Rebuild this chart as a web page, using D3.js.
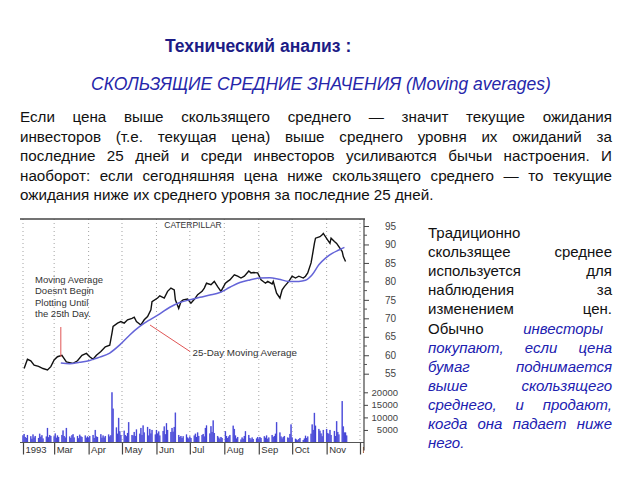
<!DOCTYPE html>
<html><head><meta charset="utf-8">
<script src="https://cdn.jsdelivr.net/npm/d3@7"></script>
<style>body{margin:0;background:#fff}svg{display:block}</style>
</head><body>
<svg id="c" width="640" height="480"></svg>
<script>
// ---------- DATA ----------
const monthLabels = ["1993","Mar","Apr","May","Jun","Jul","Aug","Sep","Oct","Nov","Dec"];
const priceTicks = [55,60,65,70,75,80,85,90,95];
const volumeTicks = [5000,10000,15000,20000];

const priceDates = ["02-02","02-05","02-08","02-11","02-15","02-19","02-23","02-26","03-01","03-04","03-08","03-10","03-12","03-18","03-22","03-26","03-30","04-02","04-05","04-08","04-12","04-16","04-20","04-22","04-23","04-27","04-30","05-03","05-06","05-10","05-12","05-14","05-18","05-21","05-24","05-27","05-28","06-02","06-04","06-08","06-11","06-14","06-17","06-18","06-21","06-23","06-25","06-29","07-02","07-06","07-08","07-12","07-14","07-16","07-20","07-23","07-26","07-29","08-02","08-04","08-06","08-10","08-13","08-16","08-19","08-23","08-25","08-27","08-31","09-03","09-07","09-09","09-13","09-14","09-17","09-20","09-22","09-24","09-28","10-01","10-04","10-07","10-11","10-13","10-15","10-18","10-19","10-21","10-22","10-26","10-28","10-29","11-02","11-04","11-05","11-08","11-10","11-12","11-15","11-16","11-18"];
const priceValues = [56.4,58.9,58.5,57.3,57.0,56.4,56.0,56.9,58.7,59.6,60.0,59.1,58.2,57.8,58.5,60.0,60.5,59.6,58.9,60.0,61.0,62.3,62.7,66.0,67.8,68.7,69.1,68.7,69.6,70.0,70.3,69.1,68.2,69.6,70.5,72.3,74.5,75.5,76.1,75.5,77.3,78.2,77.7,75.0,72.7,74.5,75.0,75.2,74.1,75.5,76.4,77.3,78.2,79.5,79.1,80.0,78.6,77.3,79.5,80.0,80.4,81.8,81.4,80.9,81.4,82.8,82.3,82.4,82.3,80.4,79.5,80.0,79.3,80.0,76.8,75.5,77.7,78.6,80.0,81.4,80.9,81.4,80.9,81.4,82.3,85.0,86.7,90.3,91.7,92.1,92.6,93.0,91.2,90.3,91.7,90.8,90.3,89.4,88.1,86.7,85.4];

const maDates = ["03-07","03-15","03-24","04-02","04-11","04-20","04-29","05-08","05-17","05-26","06-04","06-13","06-22","07-01","07-10","07-19","07-28","08-06","08-15","08-24","09-02","09-11","09-19","09-28","10-07","10-13","10-19","10-25","10-31","11-06","11-12","11-17"];
const maValues = [57.9,57.7,58.1,58.6,59.5,60.6,62.8,65.5,67.8,69.6,71.2,73.0,74.3,75.0,75.7,76.3,77.0,78.4,79.7,80.4,80.9,81.0,80.6,80.0,80.0,80.3,81.8,84.5,86.3,87.6,88.5,89.2];

// daily volume, one value per trading day, Feb 1 – Nov 19, 1993
const volFeb = [2800,3400,2200,1800,3000,2500,1500,3200,2000,2600,1800,3500,2300,2900,1600,2400,5800,2100,3000,2600];
const volMar = [2500,3600,1900,2800,2200,3000,4800,2600,2000,5800,2400,1800,2900,3300,2000,2600,1700,3100,2500,2200,2800,1900,2400];
const volApr = [2000,2600,3000,1800,5000,2400,2200,3300,1900,2800,2000,2600,3200,2400,2900,20000,13500,6000,3500,9800,4500,3000];
const volMay = [4700,3000,2500,3800,8100,3000,2800,4200,2600,5200,3500,5800,3000,6800,4000,6200,2800,5400,3600,5000,3200];
const volJun = [5000,3600,4400,2800,4600,6400,3300,7700,5000,4200,5800,4300,6200,11900,3000,2200,2600,1800,2500,3200,2000,1600];
const volJul = [2400,1800,2800,3500,2200,4000,2600,3000,3400,2400,5800,6800,3600,6500,4200,8800,3800,2600,2000,1500,2200,1800];
const volAug = [4500,2600,1800,2400,3000,6700,5400,2800,1600,2200,1200,2000,1500,2600,4500,3000,1800,1200,2000,1400,1600,2200];
const volSep = [1500,2200,1800,2500,1900,2800,1500,2000,3000,2200,2600,3500,8100,4000,2400,1600,2200,2600,2000,1800,3400,7200];
const volOct = [2000,1500,1200,900,1400,1800,1000,1600,2700,1800,2400,3500,7200,5000,11800,6700,5400,4700,3600,2500,5000];
const volNov = [5400,3800,3400,5000,3000,4600,2600,8500,4200,3200,16500,6400,4000,4000,2800];

// ---------- TEXT ----------
const titleText = "Технический анализ :";
const subtitleText = "СКОЛЬЗЯЩИЕ СРЕДНИЕ ЗНАЧЕНИЯ (Moving averages)";
const paraLines = [
  "Если цена выше скользящего среднего — значит текущие ожидания",
  "инвесторов (т.е. текущая цена) выше среднего уровня их ожиданий за",
  "последние 25 дней и среди инвесторов усиливаются бычьи настроения. И",
  "наоборот: если сегодняшняя цена ниже скользящего среднего — то текущие",
  "ожидания ниже их среднего уровня за последние 25 дней."
];
const sideLines = [
  [["n","Традиционно"]],
  [["n","скользящее среднее"]],
  [["n","используется для"]],
  [["n","наблюдения за"]],
  [["n","изменением цен."]],
  [["n","Обычно"],["b","инвесторы"]],
  [["b","покупают, если цена"]],
  [["b","бумаг поднимается"]],
  [["b","выше скользящего"]],
  [["b","среднего, и продают,"]],
  [["b","когда она падает ниже"]],
  [["b","него."]]
];

// ---------- DRAW ----------
const FONT = "'Liberation Sans', Arial, Helvetica, sans-serif";
const svg = d3.select("#c").attr("font-family", FONT);
const parse = s => d3.timeParse("%Y-%m-%d")("1993-" + s);

svg.append("text").attr("x",165).attr("y",52).attr("font-size",17.5).attr("font-weight","bold")
  .attr("fill","#1c1c86").text(titleText);
svg.append("text").attr("x",91).attr("y",89.5).attr("font-size",17.5).attr("font-style","italic")
  .attr("fill","#2626aa").text(subtitleText);

function placeLine(segs, x0, x1, y, justify, fs) {
  const words = [];
  segs.forEach(([k, t]) => t.split(" ").forEach(w => words.push([k, w])));
  const nodes = words.map(([k, w]) => {
    const t = svg.append("text").attr("y", y).attr("font-size", fs).text(w);
    if (k === "b") t.attr("fill","#2020b0").attr("font-style","italic"); else t.attr("fill","#111");
    return t;
  });
  const widths = nodes.map(n => n.node().getComputedTextLength());
  const total = d3.sum(widths);
  const gap = (justify && nodes.length > 1) ? (x1 - x0 - total) / (nodes.length - 1) : fs * 0.278;
  let x = x0;
  nodes.forEach((n, i) => { n.attr("x", x); x += widths[i] + gap; });
}
paraLines.forEach((l, i) => placeLine([["n", l]], 20, 612, 122 + i * 19.5, i < paraLines.length - 1, 15.2));
sideLines.forEach((l, i) => {
  const last = i === sideLines.length - 1;
  const x1 = i === 5 ? 603 : 612;
  placeLine(l, 428, x1, 238 + i * 19.1, !last && i !== 0, 15);
});

// chart
const g = svg.append("g");
const x = d3.scaleTime().domain([new Date(1993,1,1), new Date(1993,11,1)]).range([23,360]);
const yP = d3.scaleLinear().domain([55,95]).range([373.7,226]);
const yV = d3.scaleLinear().domain([0,20000]).range([442.5,392.3]);
const AX = 364, TOP = 219, BOT = 442.5;

const months = d3.timeMonth.range(new Date(1993,1,1), new Date(1993,11,2));
g.selectAll(".grid").data(months).join("line")
  .attr("x1", d => x(d)).attr("x2", d => x(d)).attr("y1", TOP).attr("y2", BOT)
  .attr("stroke","#8a8a8a").attr("stroke-width",0.8).attr("stroke-dasharray","1,3");

// volume
const tradingDays = d3.timeDay.range(new Date(1993,1,1), new Date(1993,10,20)).filter(d => d.getDay() % 6 !== 0);
const volumes = [].concat(volFeb, volMar, volApr, volMay, volJun, volJul, volAug, volSep, volOct, volNov);
const vData = tradingDays.map((d, i) => ({d, v: volumes[i]}));
g.selectAll(".vb").data(vData).join("rect")
  .attr("x", d => x(d.d) - 0.8).attr("width", 1.6)
  .attr("y", d => yV(d.v)).attr("height", d => BOT - yV(d.v))
  .attr("fill","#9a9af0");
g.selectAll(".vl").data(vData).join("line")
  .attr("x1", d => x(d.d)).attr("x2", d => x(d.d))
  .attr("y1", d => yV(d.v)).attr("y2", BOT)
  .attr("stroke","#3838d0").attr("stroke-width",0.9);

// frame
g.append("line").attr("x1",20).attr("x2",AX+1).attr("y1",TOP).attr("y2",TOP).attr("stroke","#444").attr("stroke-width",1.5);
g.append("line").attr("x1",20).attr("x2",AX).attr("y1",BOT).attr("y2",BOT).attr("stroke","#555").attr("stroke-width",1.2);
g.append("line").attr("x1",AX).attr("x2",AX).attr("y1",TOP).attr("y2",BOT+8).attr("stroke","#444").attr("stroke-width",1.2);

// bottom axis
const xAxis = d3.axisBottom(x).tickValues(months).tickSize(12).tickFormat((d, i) => monthLabels[i]);
const xa = g.append("g").attr("transform", `translate(0,${BOT})`).call(xAxis);
xa.select(".domain").remove();
xa.selectAll(".tick line").attr("stroke","#444").attr("stroke-width",1.2);
g.append("clipPath").attr("id","clipx").append("rect").attr("x",0).attr("y",0).attr("width",AX).attr("height",480);
xa.attr("clip-path","url(#clipx)");
xa.selectAll(".tick text").attr("text-anchor","start").attr("x",2).attr("y",4).attr("dy","0.71em")
  .attr("font-size",9.5).attr("font-family",FONT).attr("fill","#333");

// right price axis
const pa = g.append("g").attr("transform", `translate(${AX},0)`).call(d3.axisRight(yP).tickValues(priceTicks).tickSize(5).tickFormat(d3.format("d")));
pa.select(".domain").remove();
pa.selectAll(".tick line").attr("stroke","#444");
pa.selectAll(".tick text").attr("text-anchor","end").attr("x",32).attr("font-size",10).attr("font-family",FONT).attr("fill","#444");
const minor = d3.range(57.5, 95, 5);
g.selectAll(".mn").data(minor).join("line").attr("x1",AX).attr("x2",AX+3)
  .attr("y1", d => yP(d)).attr("y2", d => yP(d)).attr("stroke","#555");
const va = g.append("g").attr("transform", `translate(${AX},0)`).call(d3.axisRight(yV).tickValues(volumeTicks).tickSize(4).tickFormat(d3.format("d")));
va.select(".domain").remove();
va.selectAll(".tick line").attr("stroke","#444");
va.selectAll(".tick text").attr("text-anchor","end").attr("x",34).attr("font-size",9.5).attr("font-family",FONT).attr("fill","#444");

// price & MA lines
const pData = priceDates.map((s, i) => ({d: parse(s), v: priceValues[i]}));
const mData = maDates.map((s, i) => ({d: parse(s), v: maValues[i]}));
const line = d3.line().x(d => x(d.d)).y(d => yP(d.v));
g.append("path").datum(pData).attr("d", line).attr("fill","none").attr("stroke","#111").attr("stroke-width",1.4);
g.append("path").datum(mData).attr("d", line.curve(d3.curveMonotoneX)).attr("fill","none").attr("stroke","#6464d8").attr("stroke-width",1.5);

// annotations
g.append("text").attr("x",193).attr("y",228).attr("font-size",8.5).attr("fill","#333").attr("text-anchor","middle").text("CATERPILLAR");
["Moving Average","Doesn't Begin","Plotting Until","the 25th Day."].forEach((t, i) =>
  g.append("text").attr("x",35).attr("y",282.5 + i * 11.5).attr("font-size",9.5).attr("fill","#333").text(t));
g.append("line").attr("x1", x(parse("03-07"))).attr("x2", x(parse("03-07"))).attr("y1",327).attr("y2",357).attr("stroke","#e05555").attr("stroke-width",1);
g.append("line").attr("x1",150).attr("y1",325).attr("x2",190).attr("y2",351.5).attr("stroke","#e05555").attr("stroke-width",1);
g.append("text").attr("x",192.5).attr("y",356).attr("font-size",9.8).attr("fill","#333").text("25-Day Moving Average");
</script>
</body></html>
